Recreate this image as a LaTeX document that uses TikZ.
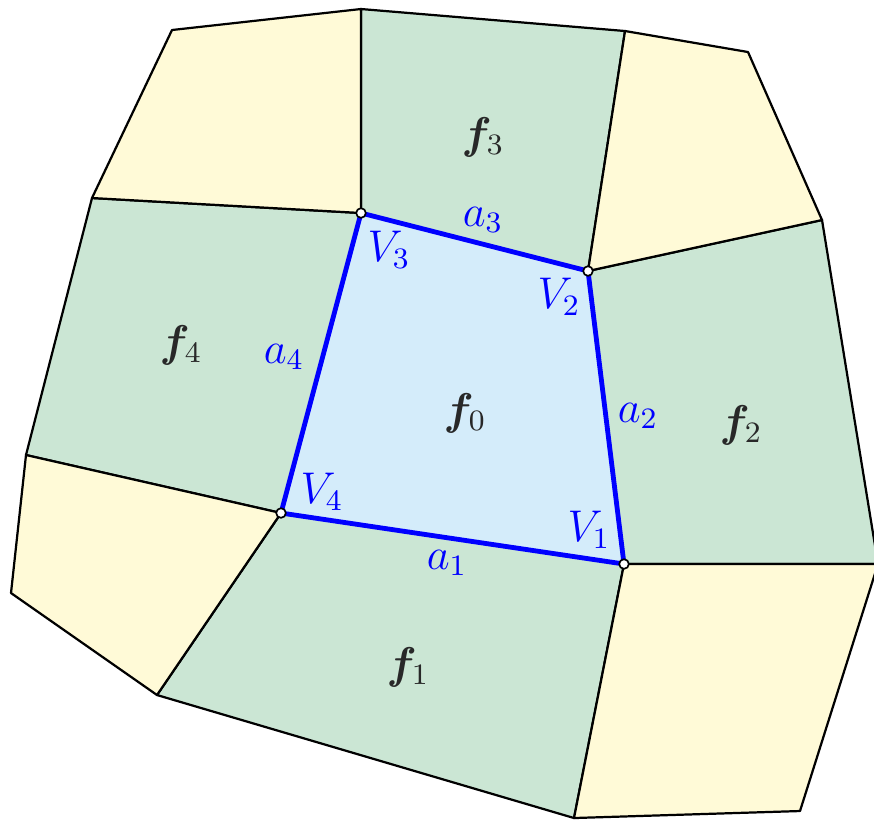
\documentclass[tikz,border=0pt]{standalone}
\usepackage{amsmath,bm}
\definecolor{verdino}{RGB}{203,230,212}
\definecolor{paglia}{RGB}{255,250,215}
\definecolor{celeste}{RGB}{212,236,250}
\definecolor{grigioscuro}{RGB}{40,40,40}
\begin{document}
\begin{tikzpicture}[x=0.27pt, y=-0.27pt,
		cella/.style={draw=black, line width=0.6pt, line join=round},
		verde/.style={cella, fill=verdino},
		giallo/.style={cella, fill=paglia},
		centro/.style={fill=celeste},
		lato/.style={draw=blue, line width=1.3pt, line join=round},
		nodo/.style={circle, fill=white, draw=black,
			inner sep=0pt, minimum size=2.6pt, line width=0.45pt},
		faccia/.style={text=grigioscuro, font=\large},
		etich/.style={text=blue, font=\large},
		]
		\useasboundingbox (0,0) rectangle (874,821);
		\clip (0,0) rectangle (874,821);
		
		%% vertici della cella centrale
		\coordinate (V1) at (624,564);
		\coordinate (V2) at (588,271);
		\coordinate (V3) at (361,213);
		\coordinate (V4) at (281,513);
		%% vertici esterni
		\coordinate (P1) at (172,30);
		\coordinate (P2) at (361,9);
		\coordinate (P3) at (625,31);
		\coordinate (P4) at (748,52);
		\coordinate (P5) at (822,220);
		\coordinate (P6) at (878,564);
		\coordinate (P7) at (800,811);
		\coordinate (P8) at (574,818);
		\coordinate (P9) at (157,695);
		\coordinate (P10) at (11,593);
		\coordinate (P11) at (26,455);
		\coordinate (P12) at (92,198);
		
		%% celle adiacenti per lato
		\draw[verde](V3)--(P2)--(P3)--(V2)--cycle;
		\draw[verde](V2)--(P5)--(P6)--(V1)--cycle;
		\draw[verde](V1)--(P8)--(P9)--(V4)--cycle;
		\draw[verde](V4)--(P11)--(P12)--(V3)--cycle;
		%% celle adiacenti per vertice
		\draw[giallo](V2)--(P3)--(P4)--(P5)--cycle;
		\draw[giallo](V1)--(P6)--(P7)--(P8)--cycle;
		\draw[giallo](V4)--(P9)--(P10)--(P11)--cycle;
		\draw[giallo](V3)--(P12)--(P1)--(P2)--cycle;
		
		%% cella centrale
		\fill[centro](V1)--(V2)--(V3)--(V4)--cycle;
		\draw[lato](V1)--(V2)--(V3)--(V4)--cycle;
		\foreach \n in {1,...,4} \node[nodo](n\n)at(V\n){};
		
		%% etichette
		\node[faccia](f0)at(465,413){$\bm{f}_0$};
		\node[faccia](f1)at(408,667){$\bm{f}_1$};
		\node[faccia](f2)at(741,425){$\bm{f}_2$};
		\node[faccia](f3)at(483,137){$\bm{f}_3$};
		\node[faccia](f4)at(181,345){$\bm{f}_4$};
		\node[etich](a1)at(447,563){$a_1$};
		\node[etich](a2)at(638,416){$a_2$};
		\node[etich](a3)at(483,220){$a_3$};
		\node[etich](a4)at(284,357){$a_4$};
		\node[etich](l1)at(589,530){$V_1$};
		\node[etich](l2)at(559,297){$V_2$};
		\node[etich](l3)at(389,250){$V_3$};
		\node[etich](l4)at(322,492){$V_4$};
		
\end{tikzpicture}
\end{document}
